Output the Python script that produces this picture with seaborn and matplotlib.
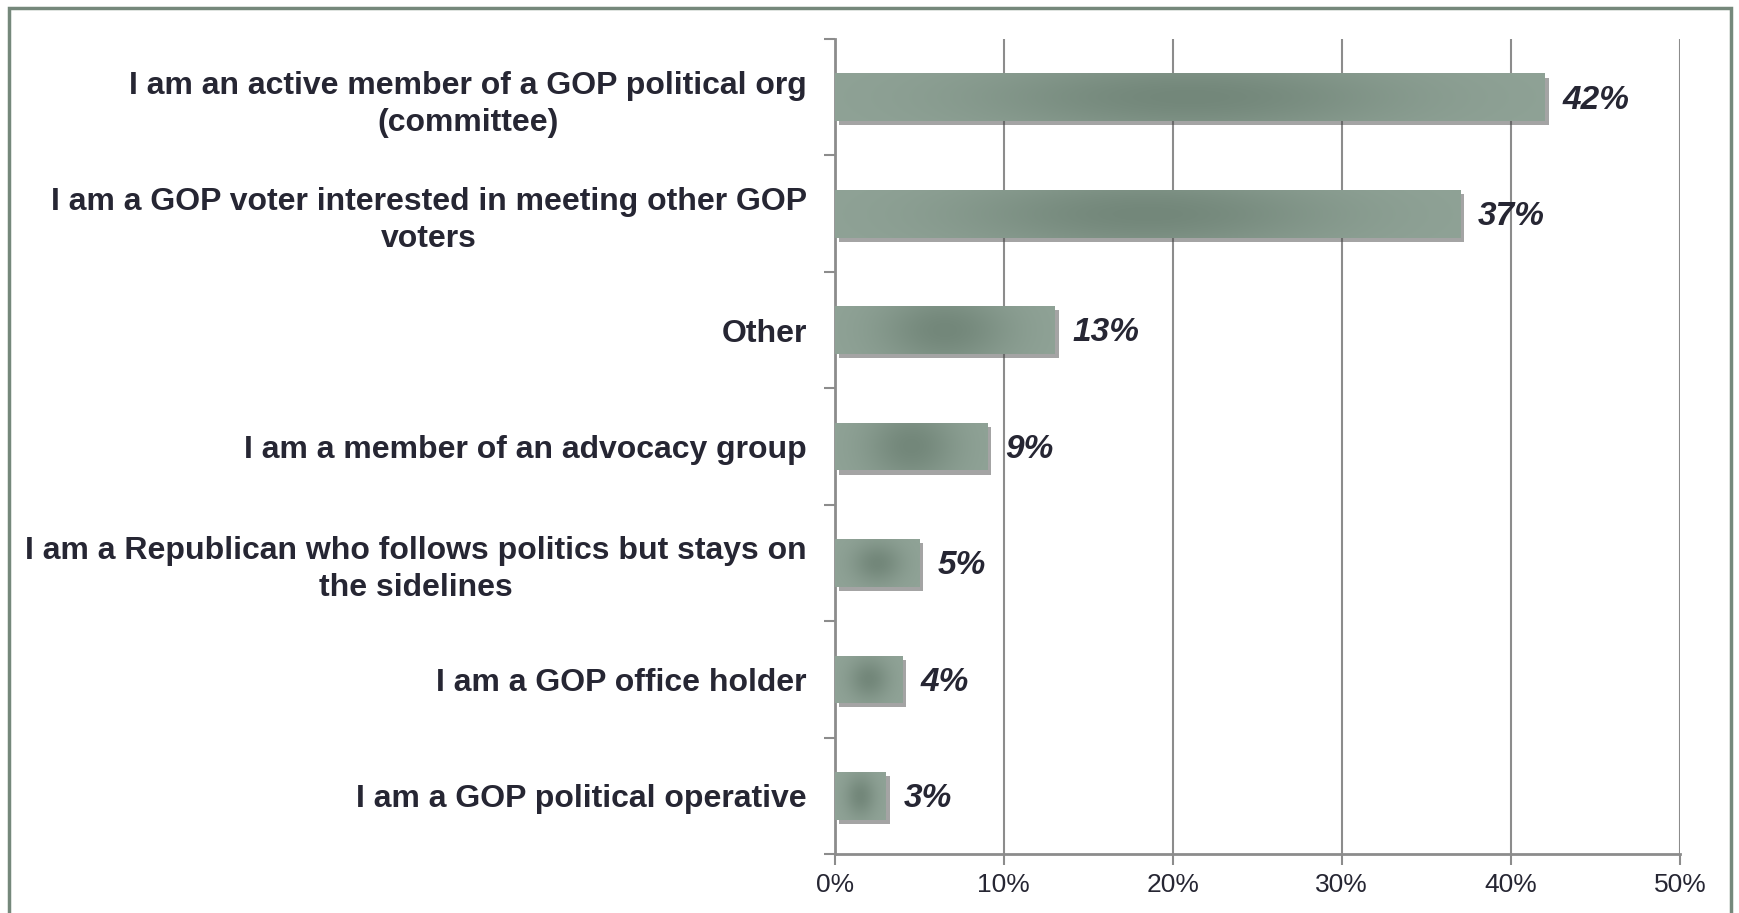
import matplotlib.pyplot as plt
import matplotlib.patheffects as pe
import numpy as np
import pandas as pd
import seaborn as sns
from matplotlib.patches import Rectangle

categories = [
    "I am an active member of a GOP political org\n(committee)",
    "I am a GOP voter interested in meeting other GOP\nvoters",
    "Other",
    "I am a member of an advocacy group",
    "I am a Republican who follows politics but stays on\nthe sidelines",
    "I am a GOP office holder",
    "I am a GOP political operative",
]
shares = [42, 37, 13, 9, 5, 4, 3]
x_ticks = [0, 10, 20, 30, 40, 50]
x_tick_labels = ["0%", "10%", "20%", "30%", "40%", "50%"]

TEXT = "#262633"
GRID = "#8c8c8c"
LIGHT = np.array([0x90, 0xa3, 0x97]) / 255
DARK = np.array([0x73, 0x87, 0x7a]) / 255


def shade_bar(ax, patch):
    """Paint a soft light-dark-light gradient inside a bar."""
    x0, y0 = patch.get_x(), patch.get_y()
    w, h = patch.get_width(), patch.get_height()
    nx, ny = 200, 40
    xs = np.linspace(-1, 1, nx)
    ys = np.linspace(-1, 1, ny)
    gx, gy = np.meshgrid(xs, ys)
    # long bars fade mostly sideways, short ones look like a soft blob
    ry = 1.6 if w > 8 else 0.9
    t = np.exp(-(gx / 0.6) ** 2 - (gy / ry) ** 2)
    img = LIGHT[None, None, :] * (1 - t[..., None]) + DARK[None, None, :] * t[..., None]
    im = ax.imshow(img, extent=(x0, x0 + w, y0 + h, y0), aspect="auto",
                   interpolation="bilinear", zorder=3)
    im.set_clip_path(patch)


df = pd.DataFrame({"category": categories, "share": shares})

sns.set_style("white")
plt.rcParams["font.family"] = ["Liberation Sans", "DejaVu Sans"]

fig = plt.figure(figsize=(17.39, 9.13), dpi=100)
ax = fig.add_axes([0.480, 0.0646, 0.486, 0.8926])

sns.barplot(data=df, y="category", x="share", orient="h", color=tuple(LIGHT),
            width=0.41, ax=ax, zorder=2, edgecolor="none")

for patch in list(ax.patches):
    patch.set_path_effects([pe.SimplePatchShadow(offset=(3, -3), shadow_rgbFace="#4a4a4a", alpha=0.5), pe.Normal()])
    shade_bar(ax, patch)

ax.set_xlim(0, 50)
ax.set_ylim(len(categories) - 0.5, -0.5)
ax.set_xticks(x_ticks)
ax.set_xticklabels(x_tick_labels, fontsize=19, color=TEXT)
ax.grid(axis="x", color=GRID, linewidth=1.5, zorder=0)
ax.set_axisbelow(True)

ax.set_yticks(range(len(categories)))
ax.set_yticklabels(categories, fontsize=23, fontweight="bold", color=TEXT, linespacing=1.3)
for lbl in ax.get_yticklabels():
    lbl.set_multialignment("center")
ax.set_yticks(np.arange(-0.5, len(categories), 1), minor=True)
ax.tick_params(axis="y", which="major", length=0, pad=20)
ax.tick_params(axis="y", which="minor", length=8, width=1.5, color=GRID, left=True)
ax.tick_params(axis="x", length=8, width=1.5, color=GRID, bottom=True, pad=6)

for side in ["top", "right"]:
    ax.spines[side].set_visible(False)
for side in ["left", "bottom"]:
    ax.spines[side].set_color(GRID)
    ax.spines[side].set_linewidth(2)
ax.set_xlabel("")
ax.set_ylabel("")

for i, v in enumerate(shares):
    ax.annotate(f"{v}%", xy=(v, i), xytext=(13, -2), textcoords="offset points",
                va="center", ha="left", fontsize=24, fontweight="bold",
                fontstyle="italic", color=TEXT)

fig.patches.append(Rectangle((9 / 1739, -0.05), 1722 / 1739, 1.05 - 8 / 913,
                             transform=fig.transFigure, fill=False,
                             edgecolor="#75887b", linewidth=2.5))

plt.savefig("out.png", dpi=100)
plt.close()
